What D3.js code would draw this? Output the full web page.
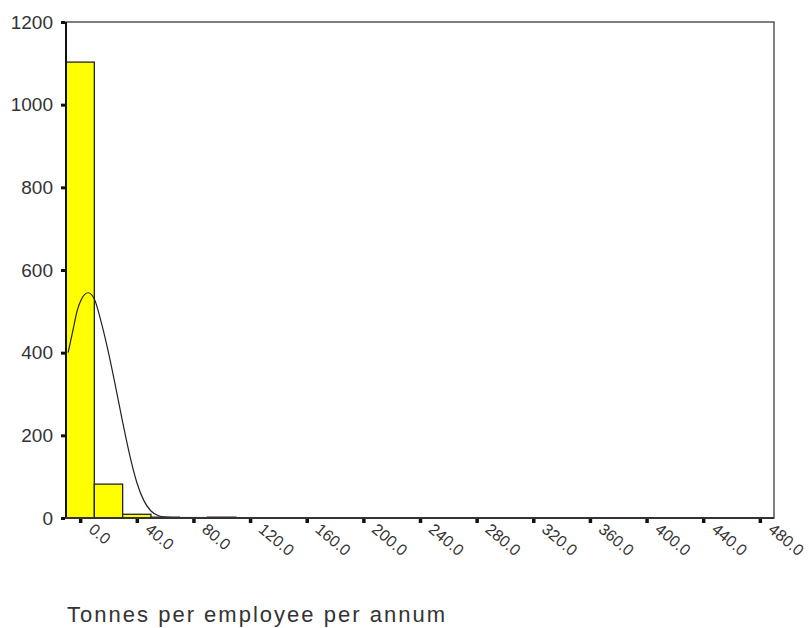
<!DOCTYPE html>
<html>
<head>
<meta charset="utf-8">
<script src="https://cdn.jsdelivr.net/npm/d3@7"></script>
<style>
  body { margin: 0; background: #fff; }
  svg { font-family: "Liberation Sans", Arial, sans-serif; }
</style>
</head>
<body>
<div class="hist"></div>
<script>
// histogram bins (start of each 20-wide bin) and counts
const binStarts = [-10, 10, 30, 50, 70, 90];
const binCounts = [1103, 82, 9, 2, 1, 2];
const binWidth = 20;

// fitted normal curve
const curveX = [-8.5, -5, -2, 1, 5.6, 10, 15, 20, 25, 30, 35, 40, 45, 50, 55, 60, 70, 490];
const curveY = [400, 456, 503, 530, 545, 530, 472, 400, 318, 232, 152, 86, 42, 17, 6, 2, 0, 0];

const xTicks = [0, 40, 80, 120, 160, 200, 240, 280, 320, 360, 400, 440, 480];
const yTicks = [0, 200, 400, 600, 800, 1000, 1200];
const xTitle = "Tonnes per employee per annum";

const width = 809, height = 628;
const mLeft = 66, mRight = 774, mTop = 22, mBottom = 518;

const svg = d3.select('.hist').append('svg')
    .attr('width', width)
    .attr('height', height);

const x = d3.scaleLinear().domain([-10, 490]).range([mLeft, mRight]);
const y = d3.scaleLinear().domain([0, 1200]).range([mBottom, mTop]);

// frame
svg.append('rect')
    .attr('x', mLeft).attr('y', mTop)
    .attr('width', mRight - mLeft).attr('height', mBottom - mTop)
    .attr('fill', 'none')
    .attr('stroke', '#555')
    .attr('stroke-width', 1.5);

// bars
svg.selectAll('rect.bar')
    .data(binStarts.map((s, i) => ({s, c: binCounts[i]})))
    .enter()
    .append('rect')
    .attr('class', 'bar')
    .attr('x', d => x(d.s))
    .attr('y', d => y(d.c))
    .attr('width', d => x(d.s + binWidth) - x(d.s))
    .attr('height', d => y(0) - y(d.c))
    .attr('fill', '#ffff00')
    .attr('stroke', '#222')
    .attr('stroke-width', 1.3);

// normal curve
const line = d3.line()
    .x((d, i) => x(curveX[i]))
    .y(d => y(d))
    .curve(d3.curveMonotoneX);

svg.append('path')
    .datum(curveY)
    .attr('d', line)
    .attr('fill', 'none')
    .attr('stroke', '#222')
    .attr('stroke-width', 1.2);

// axes lines
svg.append('line')
    .attr('x1', mLeft).attr('x2', mLeft)
    .attr('y1', mTop).attr('y2', mBottom)
    .attr('stroke', '#111').attr('stroke-width', 2);
svg.append('line')
    .attr('x1', mLeft).attr('x2', mRight)
    .attr('y1', mBottom).attr('y2', mBottom)
    .attr('stroke', '#333').attr('stroke-width', 2);

// y ticks
const yAxis = d3.axisLeft(y).tickValues(yTicks).tickSize(4).tickPadding(8).tickFormat(d3.format('d'));
const gy = svg.append('g')
    .attr('transform', `translate(${mLeft - 1},0)`)
    .call(yAxis);
gy.select('.domain').remove();
gy.selectAll('.tick line').attr('stroke', '#111').attr('stroke-width', 3);
gy.selectAll('.tick text')
    .attr('fill', '#333')
    .style('font-size', '19px');

// x ticks
const gx = svg.append('g')
    .attr('transform', `translate(0,${mBottom + 1})`)
    .call(d3.axisBottom(x).tickValues(xTicks).tickSize(4).tickFormat(d3.format('.1f')));
gx.select('.domain').remove();
gx.selectAll('.tick line').attr('stroke', '#111').attr('stroke-width', 3.5);
gx.selectAll('.tick text')
    .attr('fill', '#333')
    .style('font-size', '16px')
    .attr('text-anchor', 'start')
    .attr('x', 0).attr('y', 0).attr('dy', 0)
    .attr('transform', 'translate(7,12) rotate(40)');

// axis title
svg.append('text')
    .attr('x', 67)
    .attr('y', 622)
    .attr('textLength', 378)
    .attr('lengthAdjust', 'spacing')
    .attr('fill', '#333')
    .style('font-size', '22px')
    .text(xTitle);
</script>
</body>
</html>
